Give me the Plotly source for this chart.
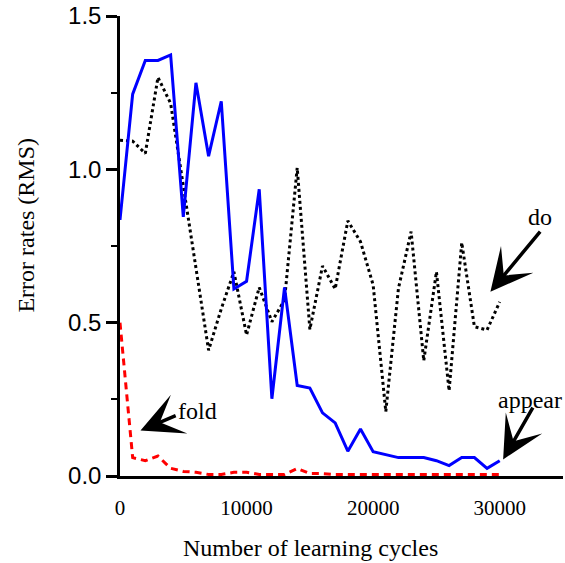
import plotly.graph_objects as go

cycles = [0, 1000, 2000, 3000, 4000, 5000, 6000, 7000, 8000, 9000, 10000,
          11000, 12000, 13000, 14000, 15000, 16000, 17000, 18000, 19000, 20000,
          21000, 22000, 23000, 24000, 25000, 26000, 27000, 28000, 29000, 30000]

appear = [0.835, 1.245, 1.355, 1.355, 1.373, 0.845, 1.282, 1.043, 1.222, 0.61, 0.635,
          0.935, 0.252, 0.615, 0.295, 0.287, 0.206, 0.173, 0.081, 0.153, 0.079,
          0.07, 0.06, 0.06, 0.06, 0.05, 0.034, 0.06, 0.06, 0.025, 0.05]

do = [1.095, 1.092, 1.052, 1.30, 1.215, 0.95, 0.68, 0.41, 0.545, 0.666, 0.46,
      0.615, 0.503, 0.574, 1.005, 0.478, 0.685, 0.61, 0.832, 0.764, 0.623,
      0.21, 0.612, 0.797, 0.376, 0.666, 0.278, 0.761, 0.487, 0.476, 0.568]

fold = [0.50, 0.06, 0.05, 0.065, 0.025, 0.015, 0.012, 0.005, 0.005, 0.012, 0.012,
        0.005, 0.005, 0.005, 0.024, 0.008, 0.008, 0.005, 0.005, 0.005, 0.005,
        0.005, 0.005, 0.005, 0.005, 0.005, 0.005, 0.005, 0.005, 0.005, 0.005]

x_ticks = [0, 10000, 20000, 30000]
y_ticks = [0.0, 0.5, 1.0, 1.5]

SERIF = "Liberation Serif, Times New Roman, serif"
SANS = "Liberation Sans, Arial, sans-serif"

fig = go.Figure()
fig.add_trace(go.Scatter(x=cycles, y=do, mode="lines",
                         line=dict(color="black", width=3, dash="dot"), name="do"))
fig.add_trace(go.Scatter(x=cycles, y=appear, mode="lines",
                         line=dict(color="#0000ff", width=3), name="appear"))
fig.add_trace(go.Scatter(x=cycles, y=fold, mode="lines",
                         line=dict(color="#ff0000", width=3, dash="7px,5px"), name="fold"))

fig.update_layout(
    width=565, height=563,
    margin=dict(l=120, r=2, t=16, b=87),
    paper_bgcolor="white", plot_bgcolor="white",
    showlegend=False,
    xaxis=dict(range=[0, 35000], tickvals=x_ticks, ticktext=[str(v) for v in x_ticks],
               showgrid=False, zeroline=False, showline=True, linecolor="black", linewidth=2.5,
               ticks="", tickfont=dict(family=SERIF, size=21, color="black"),
               ticklabelstandoff=11),
    yaxis=dict(range=[0, 1.5], tickvals=y_ticks, tickformat=".1f",
               showgrid=False, zeroline=False, showline=True, linecolor="black", linewidth=2.5,
               ticks="outside", ticklen=11, tickwidth=2.5, tickcolor="black",
               minor=dict(dtick=0.25, ticks="outside", ticklen=6, tickwidth=2, tickcolor="black"),
               tickfont=dict(family=SANS, size=24, color="black")),
)

ann_font = dict(family=SERIF, size=24, color="black")
# axis titles
fig.add_annotation(xref="paper", yref="paper", x=0.429, y=-0.1565, text="Number of learning cycles",
                   showarrow=False, font=ann_font, xanchor="center", yanchor="middle")
fig.add_annotation(xref="paper", yref="paper", x=-0.212, y=0.5446, text="Error rates (RMS)",
                   showarrow=False, font=ann_font, textangle=-90, xanchor="center", yanchor="middle")

# labels
fig.add_annotation(x=6122, y=0.213, text="fold", showarrow=False, font=ann_font)
fig.add_annotation(x=33215, y=0.843, text="do", showarrow=False, font=ann_font)
fig.add_annotation(x=32370, y=0.248, text="appear", showarrow=False, font=ann_font)

# arrows
arrow_style = dict(showarrow=True, arrowhead=3, arrowsize=2.0, arrowwidth=3.5,
                   arrowcolor="black", axref="x", ayref="y", text="")
fig.add_annotation(x=1619, y=0.148, ax=4518, ay=0.199, **arrow_style)
fig.add_annotation(x=29265, y=0.601, ax=33294, ay=0.802, **arrow_style)
fig.add_annotation(x=30269, y=0.054, ax=32686, ay=0.228, **arrow_style)

fig.write_html("out.html", config={"displayModeBar": False},
               post_script="document.body.style.margin='0';")
